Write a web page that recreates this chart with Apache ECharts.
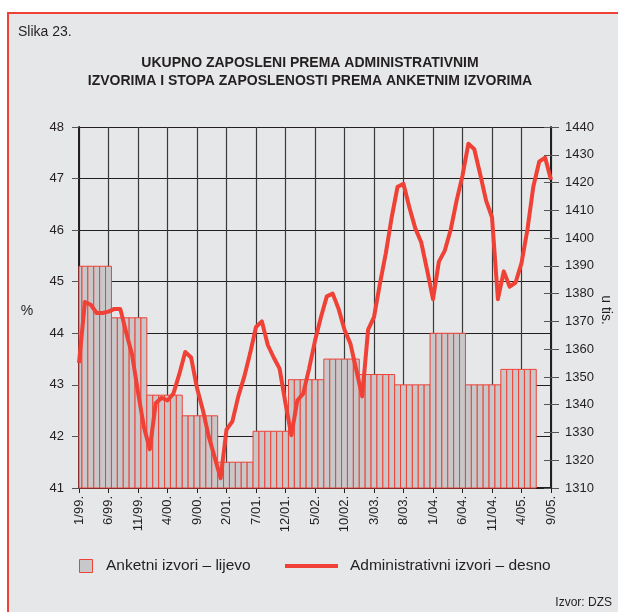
<!DOCTYPE html>
<html>
<head>
<meta charset="utf-8">
<script src="https://cdn.jsdelivr.net/npm/echarts@6/dist/echarts.min.js"></script>
<style>
    body{
        margin: 0;
        background: #fff;
    }
    #chart{
        width: 618px;
        height: 612px;
    }
</style>
</head>
<body>
<div id="chart"></div>
<script>
    // anketni izvori, stopa zaposlenosti po polugodištima (%), 1999 H1 .. 2005 H1
    var halfYears = ['1999 H1', '1999 H2', '2000 H1', '2000 H2', '2001 H1', '2001 H2', '2002 H1',
        '2002 H2', '2003 H1', '2003 H2', '2004 H1', '2004 H2', '2005 H1'];
    var surveyRate = [45.3, 44.3, 42.8, 42.4, 41.5, 42.1, 43.1, 43.5, 43.2, 43.0, 44.0, 43.0, 43.3];

    // administrativni izvori, zaposleni u tis., mjesečno od 1/99 do 9/05
    var adminEmployed = [
        1355, 1377, 1376, 1373, 1373, 1373.5, 1374.5, 1374.5, 1366, 1358, 1344.5, 1332,
        1324, 1340.5, 1342.5, 1341.5, 1344, 1351, 1359, 1357, 1346, 1338, 1328.5, 1321,
        1313.5, 1331, 1334, 1343, 1350, 1358.5, 1368, 1370, 1361.5, 1357, 1353, 1340.5,
        1329, 1341.5, 1344, 1353, 1363, 1371.5, 1379, 1380, 1374.5, 1367, 1362, 1352.5,
        1343, 1367, 1371.5, 1383.5, 1394.5, 1407.5, 1418.5, 1419.5, 1411, 1403.5, 1398.5, 1388.5,
        1378, 1391.5, 1395.5, 1403, 1413.5, 1422.5, 1434, 1432, 1423, 1413.5, 1407.5, 1378,
        1388, 1382.5, 1384, 1391, 1403, 1418.5, 1427.5, 1429, 1421
    ];

    var startYear = 1999;
    var leftTicks = {min: 41, max: 48, interval: 1};
    var rightTicks = {min: 1310, max: 1440, interval: 10};

    // mjeseci m/yy.
    var months = [];
    for (var i = 0; i < adminEmployed.length; i++) {
        var y = startYear + Math.floor(i / 12);
        months.push((i % 12 + 1) + '/' + String(y).slice(2) + '.');
    }
    // svaki mjesec polugodišta dobiva vrijednost ankete
    var surveyMonthly = [];
    for (var i = 0; i < months.length; i++) {
        var h = Math.floor(i / 6);
        if (h < surveyRate.length) surveyMonthly.push([i, surveyRate[h]]);
    }

    var red = '#ef4136';
    var ink = '#231f20';
    var font = '"Liberation Sans", Arial, sans-serif';

    // stupci centrirani na mjesec, odrezani na rubu grafa
    function renderBar(params, api) {
        var idx = api.value(0);
        var val = api.value(1);
        var top = api.coord([idx, val]);
        var base = api.coord([idx, leftTicks.min]);
        var w = api.coord([1, val])[0] - api.coord([0, val])[0];
        var rect = echarts.graphic.clipRectByRect(
            {x: top[0] - w / 2, y: top[1], width: w, height: base[1] - top[1]},
            {x: params.coordSys.x, y: params.coordSys.y, width: params.coordSys.width, height: params.coordSys.height}
        );
        if (!rect) return;
        return {
            type: 'rect',
            shape: rect,
            style: {fill: '#c8c8ca', stroke: red, lineWidth: 1}
        };
    }

    var myChart = echarts.init(document.getElementById('chart'));
    var option = {
        backgroundColor: '#fff',
        animation: false,
        textStyle: {fontFamily: font, color: ink},
        grid: {
            left: 79,
            right: 67,
            top: 127,
            bottom: 124
        },
        xAxis: {
            type: 'category',
            data: months,
            boundaryGap: false,
            axisLine: {lineStyle: {color: ink, width: 2}},
            axisTick: {interval: 4, length: 5, lineStyle: {color: ink}},
            axisLabel: {interval: 4, rotate: 90, margin: 8, fontSize: 13, color: ink, fontFamily: font},
            splitLine: {show: true, interval: 4, lineStyle: {color: '#3a3a3a', width: 1.2}}
        },
        yAxis: [
            {
                type: 'value',
                position: 'left',
                min: leftTicks.min,
                max: leftTicks.max,
                interval: leftTicks.interval,
                axisLine: {show: true, lineStyle: {color: ink, width: 2}},
                axisTick: {show: true, length: 7, lineStyle: {color: '#555'}},
                axisLabel: {margin: 15, fontSize: 13, color: ink, fontFamily: font},
                splitLine: {show: true, lineStyle: {color: ink, width: 1.2}}
            },
            {
                type: 'value',
                position: 'right',
                min: rightTicks.min,
                max: rightTicks.max,
                interval: rightTicks.interval,
                axisLine: {show: true, lineStyle: {color: ink, width: 2}},
                axisTick: {show: true, length: 8, lineStyle: {color: '#555'}},
                axisLabel: {
                    margin: 14, fontSize: 13, color: ink, fontFamily: font,
                    formatter: function (v) { return String(v); }
                },
                splitLine: {show: false}
            },
            {
                // unutarnje crtice desne osi
                type: 'value',
                position: 'right',
                min: rightTicks.min,
                max: rightTicks.max,
                interval: rightTicks.interval,
                axisLine: {show: false},
                axisTick: {show: true, inside: true, length: 7, lineStyle: {color: '#555'}},
                axisLabel: {show: false},
                splitLine: {show: false}
            }
        ],
        graphic: [
            {
                type: 'rect',
                z: -100,
                shape: {x: 8, y: 13, width: 700, height: 700},
                style: {fill: '#e6e7e8', stroke: red, lineWidth: 2}
            },
            {
                type: 'text', left: 18, top: 25,
                style: {text: 'Slika 23.', font: '14px ' + font, fill: ink}
            },
            {
                type: 'text', x: 310, y: 54,
                style: {
                    text: 'UKUPNO ZAPOSLENI PREMA ADMINISTRATIVNIM\nIZVORIMA I STOPA ZAPOSLENOSTI PREMA ANKETNIM IZVORIMA',
                    font: 'bold 14px ' + font, fill: ink, textAlign: 'center', lineHeight: 18
                }
            },
            {
                type: 'text', x: 27, y: 311,
                style: {text: '%', font: '14px ' + font, fill: ink, textAlign: 'center', textVerticalAlign: 'middle'}
            },
            {
                type: 'text', x: 606, y: 310, rotation: -Math.PI / 2,
                style: {text: 'u tis.', font: '14px ' + font, fill: ink, textAlign: 'center', textVerticalAlign: 'middle'}
            },
            {
                type: 'rect',
                shape: {x: 79.5, y: 559.5, width: 13, height: 13},
                style: {fill: '#c8c8ca', stroke: red, lineWidth: 1}
            },
            {
                type: 'text', x: 106, y: 566,
                style: {text: 'Anketni izvori – lijevo', font: '15.5px ' + font, fill: ink, textVerticalAlign: 'middle'}
            },
            {
                type: 'line',
                shape: {x1: 285, y1: 566, x2: 338, y2: 566},
                style: {stroke: red, lineWidth: 4}
            },
            {
                type: 'text', x: 350, y: 566,
                style: {text: 'Administrativni izvori – desno', font: '15.5px ' + font, fill: ink, textVerticalAlign: 'middle'}
            },
            {
                type: 'text', x: 612, y: 603,
                style: {text: 'Izvor: DZS', font: '12px ' + font, fill: ink, textAlign: 'right', textVerticalAlign: 'middle'}
            }
        ],
        series: [
            {
                name: 'Anketni izvori – lijevo',
                type: 'custom',
                yAxisIndex: 0,
                data: surveyMonthly,
                encode: {x: 0, y: 1},
                renderItem: renderBar,
                z: 2
            },
            {
                name: 'Administrativni izvori – desno',
                type: 'line',
                yAxisIndex: 1,
                data: adminEmployed,
                showSymbol: false,
                clip: true,
                z: 3,
                lineStyle: {color: red, width: 4, join: 'round'}
            }
        ]
    };
    myChart.setOption(option);
</script>
</body>
</html>
